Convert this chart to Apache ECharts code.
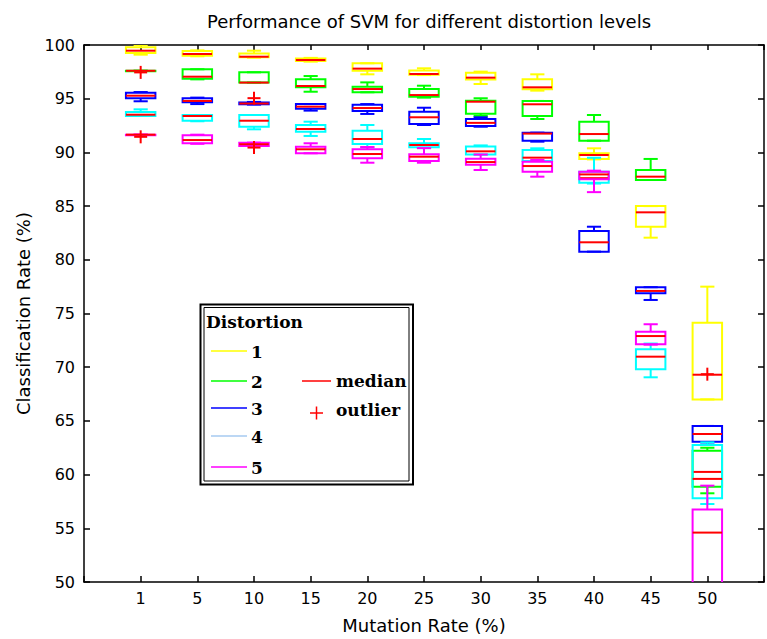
<!DOCTYPE html>
<html>
<head>
<meta charset="utf-8">
<script src="https://cdn.jsdelivr.net/npm/echarts@6/dist/echarts.min.js"></script>
<style>
html,body{margin:0;padding:0;background:#fff;}
#chart{width:767px;height:639px;}
</style>
</head>
<body>
<div id="chart"></div>
<script>
// ---------------- DATA ----------------
const mutationRates = ['1','5','10','15','20','25','30','35','40','45','50'];
const distortionLabels = ['1','2','3','4','5'];

// each entry: [lower whisker, Q1, median, Q3, upper whisker] per mutation rate
const distortion1 = [
  [99.10, 99.25, 99.47, 99.80, 100.0],
  [98.95, 99.00, 99.16, 99.45, 99.50],
  [98.82, 98.85, 98.91, 99.20, 99.47],
  [98.45, 98.50, 98.60, 98.75, 98.80],
  [97.27, 97.60, 97.80, 98.30, 98.30],
  [97.20, 97.22, 97.30, 97.62, 97.83],
  [96.37, 96.78, 96.96, 97.42, 97.52],
  [95.75, 95.88, 96.06, 96.80, 97.27],
  [89.35, 89.38, 89.76, 89.92, 90.38],
  [82.06, 83.08, 84.42, 85.00, 85.00],
  [67.00, 67.00, 69.30, 74.14, 77.50]
];
const distortion2 = [
  [97.60, 97.60, 97.60, 97.60, 97.60],
  [96.80, 96.85, 97.05, 97.74, 97.74],
  [96.50, 96.50, 96.50, 97.46, 97.46],
  [95.65, 96.06, 96.18, 96.81, 97.11],
  [95.60, 95.60, 95.90, 96.12, 96.52],
  [95.10, 95.19, 95.34, 95.90, 96.21],
  [93.40, 93.60, 94.72, 94.80, 95.04],
  [93.11, 93.39, 94.48, 94.79, 94.79],
  [91.09, 91.09, 91.71, 92.86, 93.48],
  [87.43, 87.43, 87.74, 88.36, 89.39],
  [58.26, 58.88, 60.25, 62.23, 62.50]
];
const distortion3 = [
  [94.76, 95.04, 95.28, 95.56, 95.62],
  [94.50, 94.66, 94.79, 95.04, 95.10],
  [94.45, 94.48, 94.55, 94.65, 94.70],
  [93.89, 94.07, 94.26, 94.50, 94.50],
  [93.58, 93.85, 94.13, 94.44, 94.50],
  [92.55, 92.64, 93.27, 93.79, 94.16],
  [92.39, 92.45, 92.75, 93.10, 93.27],
  [91.00, 91.09, 91.75, 91.84, 91.84],
  [80.76, 80.76, 81.63, 82.68, 83.08],
  [76.26, 76.88, 77.10, 77.45, 77.45],
  [62.80, 63.07, 63.78, 64.53, 64.53]
];
const distortion4 = [
  [93.39, 93.39, 93.51, 93.76, 94.01],
  [92.90, 92.95, 93.39, 93.48, 93.48],
  [92.15, 92.39, 92.95, 93.48, 93.48],
  [91.53, 91.93, 92.18, 92.55, 92.86],
  [90.47, 90.78, 91.25, 92.02, 92.55],
  [90.40, 90.47, 90.69, 90.85, 91.25],
  [89.80, 89.80, 90.10, 90.55, 90.65],
  [89.20, 89.20, 89.51, 90.22, 90.38],
  [87.10, 87.18, 87.60, 88.20, 89.50],
  [69.06, 69.80, 70.98, 71.67, 72.20],
  [57.26, 57.79, 59.60, 62.76, 63.00]
];
const distortion5 = [
  [91.65, 91.65, 91.65, 91.65, 91.65],
  [90.80, 90.85, 91.15, 91.59, 91.65],
  [90.60, 90.60, 90.76, 90.91, 90.91],
  [89.92, 89.92, 90.29, 90.53, 90.85],
  [89.04, 89.45, 89.85, 90.29, 90.50],
  [89.04, 89.20, 89.60, 89.82, 90.40],
  [88.36, 88.85, 89.10, 89.40, 89.80],
  [87.74, 88.20, 88.73, 89.14, 89.30],
  [86.30, 87.50, 87.95, 88.20, 88.30],
  [72.10, 72.13, 72.90, 73.31, 74.00],
  [46.00, 48.00, 54.60, 56.74, 58.97]
];
// outliers: [mutation rate, value]
const outlierRates  = ['1', '1', '10', '10', '50'];
const outlierValues = [97.45, 91.45, 95.05, 90.45, 69.35];

// ---------------- STYLE ----------------
const boxColors = ['#ffff00', '#00ff00', '#0000ff', '#00ffff', '#ff00ff'];
const legendColors = ['#ffff00', '#00ff00', '#0000ff', '#a6caf0', '#ff00ff'];
const MEDIAN_COLOR = '#ff0000';
const BOX_FRAC = 0.52, CAP_FRAC = 0.25;

const allDistortions = [distortion1, distortion2, distortion3, distortion4, distortion5];

function boxRenderer(color) {
  return function (params, api) {
    const x = api.value(0);
    const v = [1, 2, 3, 4, 5].map(i => api.value(i));
    const ys = v.map(val => api.coord([x, val])[1]);
    const cx = api.coord([x, v[2]])[0];
    const unit = api.size([1, 0])[0];
    const hb = unit * BOX_FRAC / 2, hc = unit * CAP_FRAC / 2;
    const yLo = ys[0], yQ1 = ys[1], yMed = ys[2], yQ3 = ys[3], yHi = ys[4];
    const ls = { stroke: color, lineWidth: 2, fill: 'none' };
    return {
      type: 'group',
      children: [
        { type: 'line', shape: { x1: cx, y1: yQ3, x2: cx, y2: yHi }, style: ls },
        { type: 'line', shape: { x1: cx, y1: yQ1, x2: cx, y2: yLo }, style: ls },
        { type: 'line', shape: { x1: cx - hc, y1: yHi, x2: cx + hc, y2: yHi }, style: ls },
        { type: 'line', shape: { x1: cx - hc, y1: yLo, x2: cx + hc, y2: yLo }, style: ls },
        { type: 'rect', shape: { x: cx - hb, y: yQ3, width: 2 * hb, height: Math.max(yQ1 - yQ3, 0.5) }, style: ls },
        { type: 'line', shape: { x1: cx - hb, y1: yMed, x2: cx + hb, y2: yMed }, style: { stroke: MEDIAN_COLOR, lineWidth: 2 } }
      ]
    };
  };
}

function plusRenderer(params, api) {
  const p = api.coord([api.value(0), api.value(1)]);
  const h = 6.5;
  const st = { stroke: MEDIAN_COLOR, lineWidth: 2 };
  return {
    type: 'group',
    children: [
      { type: 'line', shape: { x1: p[0] - h, y1: p[1], x2: p[0] + h, y2: p[1] }, style: st },
      { type: 'line', shape: { x1: p[0], y1: p[1] - h, x2: p[0], y2: p[1] + h }, style: st }
    ]
  };
}

const series = allDistortions.map((d, k) => ({
  type: 'custom',
  name: distortionLabels[k],
  xAxisIndex: 0,
  yAxisIndex: 0,
  clip: true,
  renderItem: boxRenderer(boxColors[k]),
  dimensions: ['x', 'lo', 'q1', 'med', 'q3', 'hi'],
  encode: { x: 0, y: [1, 2, 3, 4, 5] },
  data: d.map((row, i) => [i + 1].concat(row)),
  silent: true,
  z: 2 + k
}));
series.push({
  type: 'custom',
  name: 'outlier',
  xAxisIndex: 0,
  yAxisIndex: 0,
  clip: true,
  renderItem: plusRenderer,
  encode: { x: 0, y: 1 },
  data: outlierRates.map((r, i) => [mutationRates.indexOf(r) + 1, outlierValues[i]]),
  silent: true,
  z: 10
});

// ---------------- LEGEND (graphic) ----------------
const serifBold = 'bold 17px "DejaVu Serif", serif';
const legendRowsY = [351, 381, 408, 436, 467];
const legendGraphics = [
  { type: 'rect', shape: { x: 200.5, y: 304.5, width: 212.5, height: 180 }, style: { stroke: '#000', lineWidth: 2, fill: '#fff' }, z: 100 },
  { type: 'rect', shape: { x: 204, y: 307.5, width: 205, height: 173.5 }, style: { stroke: '#000', lineWidth: 1, fill: 'none' }, z: 101 },
  { type: 'text', x: 206, y: 322, style: { text: 'Distortion', font: serifBold, fill: '#000', textVerticalAlign: 'middle' }, z: 102 }
];
distortionLabels.forEach((lab, k) => {
  const y = legendRowsY[k];
  legendGraphics.push({ type: 'line', shape: { x1: 211, y1: y, x2: 247, y2: y }, style: { stroke: legendColors[k], lineWidth: 1.5 }, z: 102 });
  legendGraphics.push({ type: 'text', x: 251, y: y + 1, style: { text: lab, font: serifBold, fill: '#000', textVerticalAlign: 'middle' }, z: 102 });
});
legendGraphics.push({ type: 'line', shape: { x1: 302, y1: 381, x2: 331, y2: 381 }, style: { stroke: MEDIAN_COLOR, lineWidth: 1.5 }, z: 102 });
legendGraphics.push({ type: 'text', x: 336, y: 381, style: { text: 'median', font: serifBold, fill: '#000', textVerticalAlign: 'middle' }, z: 102 });
legendGraphics.push({ type: 'line', shape: { x1: 310, y1: 413, x2: 323, y2: 413 }, style: { stroke: MEDIAN_COLOR, lineWidth: 1.5 }, z: 102 });
legendGraphics.push({ type: 'line', shape: { x1: 316.5, y1: 406.5, x2: 316.5, y2: 419.5 }, style: { stroke: MEDIAN_COLOR, lineWidth: 1.5 }, z: 102 });
legendGraphics.push({ type: 'text', x: 336, y: 410, style: { text: 'outlier', font: serifBold, fill: '#000', textVerticalAlign: 'middle' }, z: 102 });

// ---------------- CHART ----------------
const sansFont = '"DejaVu Sans", sans-serif';
const axisCommon = {
  axisLine: { show: true, onZero: false, lineStyle: { color: '#000', width: 1.5 } },
  axisTick: { show: true, inside: true, length: 6, lineStyle: { color: '#000', width: 1.5 } },
  splitLine: { show: false }
};

const chart = echarts.init(document.getElementById('chart'), null, { renderer: 'svg' });
chart.setOption({
  animation: false,
  backgroundColor: '#fff',
  title: {
    text: 'Performance of SVM for different distortion levels',
    left: 424, textAlign: 'center', top: 7,
    textStyle: { fontFamily: sansFont, fontSize: 18, fontWeight: 'normal', color: '#000' }
  },
  grid: { left: 84, right: 3, top: 45, bottom: 57, containLabel: false },
  xAxis: [
    Object.assign({
      type: 'value', min: 0, max: 12, interval: 1, position: 'bottom',
      name: 'Mutation Rate (%)', nameLocation: 'middle', nameGap: 34,
      nameTextStyle: { fontFamily: sansFont, fontSize: 18, color: '#000' },
      axisLabel: {
        margin: 8, fontFamily: sansFont, fontSize: 16, color: '#000',
        formatter: v => (v >= 1 && v <= mutationRates.length) ? mutationRates[v - 1] : ''
      }
    }, axisCommon),
    Object.assign({
      type: 'value', min: 0, max: 12, interval: 1, position: 'top',
      axisLabel: { show: false }
    }, axisCommon, { axisTick: { show: true, inside: true, length: 5, lineStyle: { color: '#000', width: 1.5 } } })
  ],
  yAxis: [
    Object.assign({
      type: 'value', min: 50, max: 100, interval: 5, position: 'left',
      name: 'Classification Rate (%)', nameLocation: 'middle', nameGap: 52,
      nameTextStyle: { fontFamily: sansFont, fontSize: 18, color: '#000' },
      axisLabel: { margin: 9, fontFamily: sansFont, fontSize: 16, color: '#000' }
    }, axisCommon),
    Object.assign({
      type: 'value', min: 50, max: 100, interval: 5, position: 'right',
      axisLabel: { show: false }
    }, axisCommon)
  ],
  graphic: legendGraphics,
  series: series
});
</script>
</body>
</html>
